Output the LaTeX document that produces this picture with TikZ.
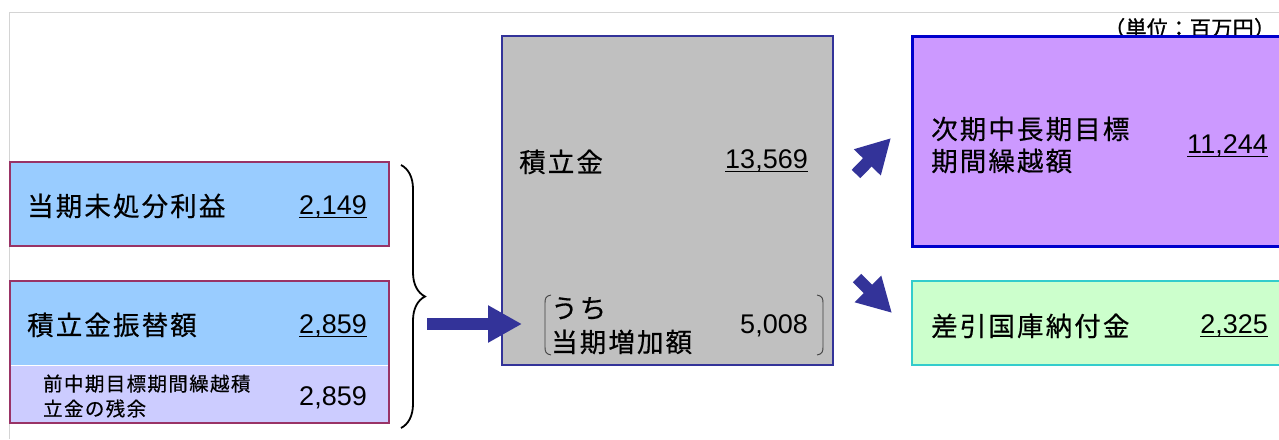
\documentclass[tikz,border=0pt]{standalone}
\usepackage{fontspec}
\setmainfont{Liberation Sans}
\newfontfamily\jp{Noto Sans CJK JP}[LetterSpace=8,FakeBold=0.5]
\newfontfamily\jps{Noto Sans CJK JP}[LetterSpace=7,FakeBold=0.4]
\newfontfamily\jpu{Noto Sans CJK JP}[LetterSpace=2,FakeBold=1.2]
\usetikzlibrary{decorations.pathreplacing,arrows.meta}
\definecolor{lblue}{HTML}{99CCFF}
\definecolor{lav}{HTML}{CCCCFF}
\definecolor{maroon}{HTML}{993366}
\definecolor{grayfill}{HTML}{C0C0C0}
\definecolor{navy}{HTML}{333399}
\definecolor{purp}{HTML}{CC99FF}
\definecolor{bluebd}{HTML}{0000CC}
\definecolor{mint}{HTML}{CCFFCC}
\definecolor{teal}{HTML}{33CCCC}
\definecolor{frame}{HTML}{D4D4D4}
\newcommand\myul[1]{\setbox0\hbox{#1}\rlap{\rule[-4.2pt]{\wd0}{1.4pt}}\box0}
\tikzset{
  jt/.style={anchor=base west, inner sep=0pt, font=\jp\fontsize{26.5}{30}\selectfont},
  jts/.style={anchor=base west, inner sep=0pt, font=\jps\fontsize{19.5}{22}\selectfont},
  num/.style={anchor=base east, inner sep=0pt, font=\fontsize{27}{30}\selectfont},
  fat/.style={draw=navy, line width=12pt, -{Triangle[length=34pt,width=35pt]}},
  bracket/.style={draw=black!75, line width=0.9pt},
}
\begin{document}
\begin{tikzpicture}[x=1pt,y=-1pt]
\clip (0,0) rectangle (1279,439);
\fill[white] (0,0) rectangle (1279,439);
\draw[frame, line width=1.2pt] (9.3,439) -- (9.3,12.3) -- (1279,12.3);
% unit text (behind purple box)
\node[anchor=base west, inner sep=0pt, font=\jpu\fontsize{21}{24}\selectfont] (unit) at (1104,36) {（単位：百万円）};
% left box 1
\path[fill=lblue, draw=maroon, line width=2.5pt] (10,162) rectangle (389,246);
% left box 2
\fill[lblue] (10,281) rectangle (389,365);
\fill[lav] (10,366) rectangle (389,423);
\draw[white, line width=1.6pt] (10,365.5) -- (389,365.5);
\draw[maroon, line width=2.5pt] (10,281) rectangle (389,423);
% center box
\path[fill=grayfill, draw=navy, line width=2.5pt] (502,36) rectangle (833,365);
% right boxes
\path[fill=purp, draw=bluebd, line width=3pt] (912,36) rectangle (1300,246);
\path[fill=mint, draw=teal, line width=2.5pt] (912,281) rectangle (1300,365);
% texts left
\node[jt] (t1) at (27,216) {当期未処分利益};
\node[num] (n1) at (367,214) {\myul{2,149}};
\node[jt] (t2) at (27,335) {積立金振替額};
\node[num] (n2) at (367,333) {\myul{2,859}};
\node[jts] (t3a) at (43,391) {前中期目標期間繰越積};
\node[jts] (t3b) at (43,416) {立金の残余};
\node[num] (n3) at (367,405) {2,859};
% center texts
\node[jt] (t4) at (519,172) {積立金};
\node[num] (n4) at (808,168) {\myul{13,569}};
\node[jt] (t5a) at (551,318) {うち};
\node[jt] (t5b) at (551,352) {当期増加額};
\node[num] (n5) at (808,333) {5,008};
\draw[bracket] (551,295) .. controls (546,296) and (545,298) .. (545,303) -- (545,347) .. controls (545,352) and (546,354) .. (551,355);
\draw[bracket] (817,295) .. controls (822,296) and (823,298) .. (823,303) -- (823,347) .. controls (823,352) and (822,354) .. (817,355);
% right texts
\node[jt] (t6a) at (931,139) {次期中長期目標};
\node[jt] (t6b) at (931,171) {期間繰越額};
\node[num] (n6) at (1268,153) {\myul{11,244}};
\node[jt] (t7) at (931,336) {差引国庫納付金};
\node[num] (n7) at (1268,333) {\myul{2,325}};
% brace
\coordinate (bt) at (401,165);
\coordinate (bb) at (401,428);
\draw[line width=1.8pt, decorate, decoration={brace, amplitude=24pt}] (bt) -- (bb);
% arrows
\coordinate (a0s) at (427,324);
\coordinate (a0e) at (522,324);
\draw[fat] (a0s) -- (a0e);
\coordinate (a1s) at (856,174);
\coordinate (a1e) at (891,138);
\draw[fat] (a1s) -- (a1e);
\coordinate (a2s) at (857,278);
\coordinate (a2e) at (892,313);
\draw[fat] (a2s) -- (a2e);
\end{tikzpicture}
\end{document}
